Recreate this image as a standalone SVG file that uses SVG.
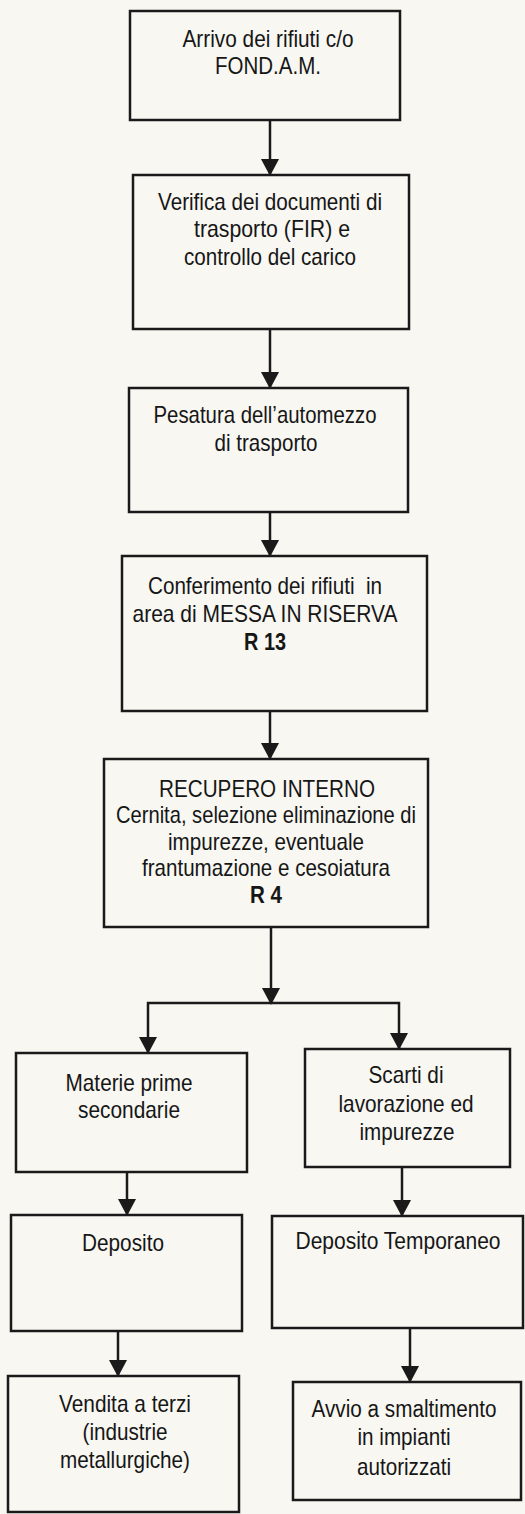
<svg xmlns="http://www.w3.org/2000/svg" width="525" height="1514" viewBox="0 0 525 1514">
<style>
.bg{fill:#f8f7f2}
.box{fill:none;stroke:#1a1a1a;stroke-width:2.5}
.t{font-family:"Liberation Sans Narrow","Arial Narrow","Liberation Sans",Arial,sans-serif;font-size:24px;fill:#161616;text-anchor:middle}
.s{font-size:23px}
.b{font-weight:bold}
.c{fill:none;stroke:#1a1a1a;stroke-width:2.5}
</style>
<defs>
<marker id="ah" markerUnits="userSpaceOnUse" markerWidth="18" markerHeight="19" refX="16" refY="9" orient="auto">
<path d="M0,0 L17,9 L0,18 Z" fill="#1a1a1a"/>
</marker>
</defs>
<rect class="bg" x="0" y="0" width="525" height="1514"/>
<g id="connectors">
<line class="c" x1="270" y1="120" x2="270" y2="175" marker-end="url(#ah)"/>
<line class="c" x1="270" y1="329" x2="270" y2="388" marker-end="url(#ah)"/>
<line class="c" x1="270" y1="512" x2="270" y2="556" marker-end="url(#ah)"/>
<line class="c" x1="270" y1="711" x2="270" y2="759" marker-end="url(#ah)"/>
<line class="c" x1="271" y1="927" x2="271" y2="1004" marker-end="url(#ah)"/>
<path class="c" d="M271,1003 H148 V1053" marker-end="url(#ah)"/>
<path class="c" d="M271,1003 H399 V1049" marker-end="url(#ah)"/>
<line class="c" x1="127" y1="1172" x2="127" y2="1215" marker-end="url(#ah)"/>
<line class="c" x1="402" y1="1167" x2="402" y2="1216" marker-end="url(#ah)"/>
<line class="c" x1="118" y1="1331" x2="118" y2="1376" marker-end="url(#ah)"/>
<line class="c" x1="410" y1="1328" x2="410" y2="1382" marker-end="url(#ah)"/>
</g>
<g id="n1">
<rect class="box" x="130" y="11" width="270" height="109"/>
<text class="t" x="268" y="47" textLength="171" lengthAdjust="spacingAndGlyphs">Arrivo dei rifiuti c/o</text>
<text class="t" x="268" y="74" textLength="106" lengthAdjust="spacingAndGlyphs">FOND.A.M.</text>
</g>
<g id="n2">
<rect class="box" x="133" y="175" width="276" height="154"/>
<text class="t" x="270" y="210" textLength="224" lengthAdjust="spacingAndGlyphs">Verifica dei documenti di</text>
<text class="t" x="272" y="237" textLength="156" lengthAdjust="spacingAndGlyphs">trasporto (FIR) e</text>
<text class="t" x="270" y="265" textLength="172" lengthAdjust="spacingAndGlyphs">controllo del carico</text>
</g>
<g id="n3">
<rect class="box" x="129" y="388" width="279" height="124"/>
<text class="t" x="265" y="423" textLength="223" lengthAdjust="spacingAndGlyphs">Pesatura dell’automezzo</text>
<text class="t" x="266" y="451" textLength="103" lengthAdjust="spacingAndGlyphs">di trasporto</text>
</g>
<g id="n4">
<rect class="box" x="122" y="556" width="305" height="155"/>
<text class="t" x="265" y="594" textLength="234" lengthAdjust="spacingAndGlyphs" xml:space="preserve">Conferimento dei rifiuti  in</text>
<text class="t" x="265" y="622" textLength="265" lengthAdjust="spacingAndGlyphs">area di MESSA IN RISERVA</text>
<text class="t b" x="265" y="650" textLength="42" lengthAdjust="spacingAndGlyphs">R 13</text>
</g>
<g id="n5">
<rect class="box" x="104" y="759" width="324" height="168"/>
<text class="t" x="267" y="797" textLength="216" lengthAdjust="spacingAndGlyphs">RECUPERO INTERNO</text>
<text class="t" x="266" y="823" textLength="300" lengthAdjust="spacingAndGlyphs">Cernita, selezione eliminazione di</text>
<text class="t" x="266" y="850" textLength="196" lengthAdjust="spacingAndGlyphs">impurezze, eventuale</text>
<text class="t" x="266" y="876" textLength="248" lengthAdjust="spacingAndGlyphs">frantumazione e cesoiatura</text>
<text class="t b" x="266" y="903" textLength="32" lengthAdjust="spacingAndGlyphs">R 4</text>
</g>
<g id="n6">
<rect class="box" x="16" y="1053" width="231" height="119"/>
<text class="t" x="129" y="1091" textLength="127" lengthAdjust="spacingAndGlyphs">Materie prime</text>
<text class="t" x="129" y="1118" textLength="102" lengthAdjust="spacingAndGlyphs">secondarie</text>
</g>
<g id="n7">
<rect class="box" x="305" y="1049" width="205" height="118"/>
<text class="t" x="406" y="1083" textLength="75" lengthAdjust="spacingAndGlyphs">Scarti di</text>
<text class="t" x="406" y="1112" textLength="135" lengthAdjust="spacingAndGlyphs">lavorazione ed</text>
<text class="t" x="407" y="1140" textLength="95" lengthAdjust="spacingAndGlyphs">impurezze</text>
</g>
<g id="n8">
<rect class="box" x="11" y="1215" width="231" height="116"/>
<text class="t" x="123" y="1251" textLength="82" lengthAdjust="spacingAndGlyphs">Deposito</text>
</g>
<g id="n9">
<rect class="box" x="272" y="1216" width="251" height="112"/>
<text class="t s" x="398" y="1249" textLength="205" lengthAdjust="spacingAndGlyphs">Deposito Temporaneo</text>
</g>
<g id="n10">
<rect class="box" x="8" y="1376" width="231" height="136"/>
<text class="t" x="125" y="1412" textLength="132" lengthAdjust="spacingAndGlyphs">Vendita a terzi</text>
<text class="t" x="125" y="1440" textLength="85" lengthAdjust="spacingAndGlyphs">(industrie</text>
<text class="t" x="125" y="1468" textLength="130" lengthAdjust="spacingAndGlyphs">metallurgiche)</text>
</g>
<g id="n11">
<rect class="box" x="293" y="1382" width="228" height="118"/>
<text class="t s" x="404" y="1417" textLength="185" lengthAdjust="spacingAndGlyphs">Avvio a smaltimento</text>
<text class="t" x="404" y="1445" textLength="93" lengthAdjust="spacingAndGlyphs">in impianti</text>
<text class="t" x="404" y="1475" textLength="94" lengthAdjust="spacingAndGlyphs">autorizzati</text>
</g>
</svg>
